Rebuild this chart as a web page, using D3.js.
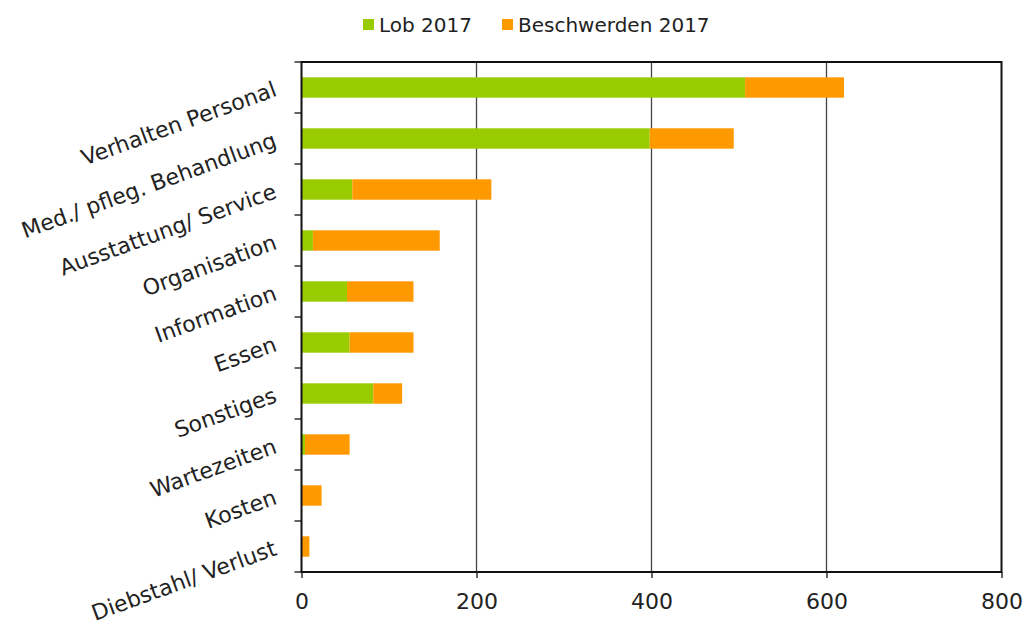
<!DOCTYPE html>
<html><head><meta charset="utf-8">
<script src="https://cdn.jsdelivr.net/npm/d3@7"></script>
<style>body{margin:0;background:#fff;} text{font-family:"DejaVu Sans",Verdana,sans-serif;fill:#222;}</style>
</head><body><svg id="c" width="1025" height="630"></svg>
<script>
const categories = ["Verhalten Personal","Med./ pfleg. Behandlung","Ausstattung/ Service","Organisation","Information","Essen","Sonstiges","Wartezeiten","Kosten","Diebstahl/ Verlust"];
const lob = [507, 398, 58, 13, 52, 55, 82, 4, 0, 0];
const beschwerden = [113, 96, 159, 145, 76, 73, 33, 51, 23, 9];
const seriesNames = ["Lob 2017","Beschwerden 2017"];
const colors = ["#99cc00","#ff9900"];
const xTicks = [0,200,400,600,800];

const svg = d3.select("#c");
const m = {l:301.5, r:1001.5, t:62, b:572};
const x = d3.scaleLinear().domain([0,800]).range([m.l,m.r]);
const y = d3.scaleBand().domain(categories).range([m.t,m.b]).paddingInner(0.6).paddingOuter(0.3);
const yb = d3.scaleBand().domain(categories).range([m.t,m.b]);

// gridlines
svg.append("g").selectAll("line").data(xTicks.slice(1,-1)).join("line")
  .attr("x1",d=>x(d)).attr("x2",d=>x(d)).attr("y1",m.t).attr("y2",m.b)
  .attr("stroke","#444").attr("stroke-width",1.3);

const rows = categories.map((c,i)=>({c, a:lob[i], b:beschwerden[i]}));
const stack = d3.stack().keys(["a","b"])(rows);
svg.append("g").selectAll("g").data(stack).join("g").attr("fill",(d,i)=>colors[i])
  .selectAll("rect").data(d=>d).join("rect")
  .attr("x",d=>x(d[0])).attr("width",d=>x(d[1])-x(d[0]))
  .attr("y",d=>y(d.data.c)).attr("height",y.bandwidth());

// frame
svg.append("rect").attr("x",m.l).attr("y",m.t).attr("width",m.r-m.l).attr("height",m.b-m.t)
  .attr("fill","none").attr("stroke","#111").attr("stroke-width",2);

// x axis
const xa = svg.append("g").attr("transform",`translate(0,${m.b})`)
  .call(d3.axisBottom(x).tickValues(xTicks).tickSize(6).tickPadding(15));
xa.select(".domain").remove();
xa.selectAll("line").attr("stroke","#111").attr("stroke-width",1.3);
xa.selectAll("text").style("font-size","22px").attr("fill","#222").style("font-family","DejaVu Sans, Verdana, sans-serif");

// y ticks at category boundaries
const bounds = categories.map(c=>yb(c)).concat([m.b]);
svg.append("g").selectAll("line").data(bounds).join("line")
  .attr("x1",m.l-7).attr("x2",m.l).attr("y1",d=>d).attr("y2",d=>d)
  .attr("stroke","#111").attr("stroke-width",1.3);

// y labels rotated
svg.append("g").selectAll("text").data(categories).join("text")
  .attr("transform",c=>`translate(278,${yb(c)+yb.bandwidth()/2+8}) rotate(-20)`)
  .attr("text-anchor","end").style("font-size","22px").text(c=>c);

// legend
const lg = svg.append("g");
const lx = [363, 502];
seriesNames.forEach((s,i)=>{
  lg.append("rect").attr("x",lx[i]).attr("y",19).attr("width",11).attr("height",11).attr("fill",colors[i]);
  lg.append("text").attr("x",lx[i]+16).attr("y",32).style("font-size","20px").text(s);
});
</script></body></html>
